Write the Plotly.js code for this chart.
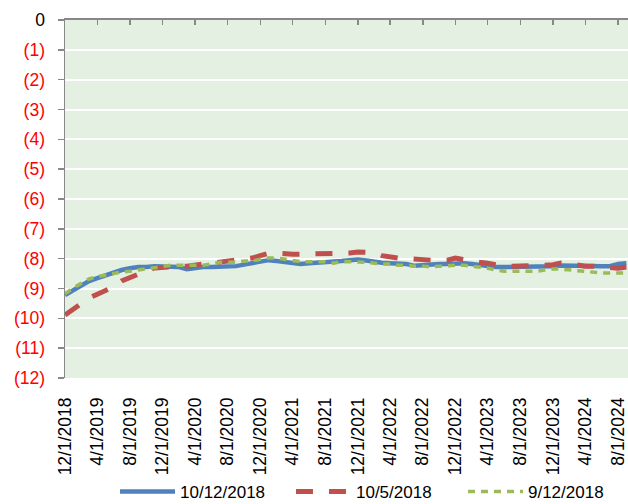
<!DOCTYPE html>
<html>
<head>
<meta charset="utf-8">
<script src="https://cdn.plot.ly/plotly-3.0.1.min.js"></script>
<style>html,body{margin:0;padding:0;background:#fff;}#chart{width:628px;height:504px;}</style>
</head>
<body>
<div id="chart"></div>
<script>
const months = [
 '2018-12-01',
 '2019-01-01','2019-02-01','2019-03-01','2019-04-01','2019-05-01','2019-06-01','2019-07-01','2019-08-01','2019-09-01','2019-10-01','2019-11-01','2019-12-01',
 '2020-01-01','2020-02-01','2020-03-01','2020-04-01','2020-05-01','2020-06-01','2020-07-01','2020-08-01','2020-09-01','2020-10-01','2020-11-01','2020-12-01',
 '2021-01-01','2021-02-01','2021-03-01','2021-04-01','2021-05-01','2021-06-01','2021-07-01','2021-08-01','2021-09-01','2021-10-01','2021-11-01','2021-12-01',
 '2022-01-01','2022-02-01','2022-03-01','2022-04-01','2022-05-01','2022-06-01','2022-07-01','2022-08-01','2022-09-01','2022-10-01','2022-11-01','2022-12-01',
 '2023-01-01','2023-02-01','2023-03-01','2023-04-01','2023-05-01','2023-06-01','2023-07-01','2023-08-01','2023-09-01','2023-10-01','2023-11-01','2023-12-01',
 '2024-01-01','2024-02-01','2024-03-01','2024-04-01','2024-05-01','2024-06-01','2024-07-01','2024-08-01','2024-09-01'
];

const series_10_12_2018 = [
 -9.22,-9.05,-8.88,-8.75,-8.65,-8.55,-8.45,-8.38,-8.32,-8.28,-8.28,-8.25,-8.26,
 -8.28,-8.28,-8.35,-8.30,-8.28,-8.28,-8.28,-8.28,-8.25,-8.20,-8.15,-8.08,
 -8.05,-8.08,-8.12,-8.13,-8.18,-8.15,-8.14,-8.12,-8.10,-8.08,-8.05,-8.03,
 -8.06,-8.12,-8.14,-8.15,-8.15,-8.18,-8.24,-8.21,-8.20,-8.18,-8.18,-8.15,
 -8.15,-8.18,-8.22,-8.25,-8.28,-8.28,-8.28,-8.28,-8.27,-8.27,-8.26,-8.25,
 -8.23,-8.24,-8.25,-8.25,-8.25,-8.25,-8.25,-8.18,-8.15
];

const series_10_5_2018 = [
 -9.89,-9.69,-9.49,-9.32,-9.19,-9.05,-8.95,-8.75,-8.62,-8.52,-8.41,-8.31,-8.28,
 -8.25,-8.25,-8.25,-8.22,-8.18,-8.15,-8.12,-8.10,-8.08,-8.03,-7.98,-7.90,
 -7.82,-7.82,-7.85,-7.85,-7.85,-7.85,-7.85,-7.84,-7.82,-7.81,-7.81,-7.78,
 -7.78,-7.80,-7.90,-7.95,-7.98,-8.00,-8.03,-8.05,-8.05,-8.05,-8.05,-7.98,
 -8.04,-8.10,-8.12,-8.15,-8.20,-8.25,-8.25,-8.25,-8.25,-8.25,-8.22,-8.20,
 -8.15,-8.18,-8.22,-8.25,-8.25,-8.28,-8.30,-8.32,-8.28
];

const series_9_12_2018 = [
 -9.18,-8.98,-8.82,-8.68,-8.60,-8.55,-8.48,-8.45,-8.42,-8.38,-8.32,-8.28,-8.25,
 -8.22,-8.22,-8.22,-8.22,-8.22,-8.18,-8.12,-8.12,-8.12,-8.08,-8.08,-8.02,
 -7.98,-7.98,-8.02,-8.08,-8.10,-8.10,-8.10,-8.10,-8.15,-8.10,-8.10,-8.10,
 -8.12,-8.15,-8.18,-8.18,-8.22,-8.22,-8.25,-8.25,-8.28,-8.25,-8.22,-8.22,
 -8.22,-8.25,-8.28,-8.32,-8.38,-8.42,-8.42,-8.42,-8.42,-8.42,-8.38,-8.35,
 -8.35,-8.38,-8.42,-8.45,-8.45,-8.48,-8.48,-8.48,-8.48
];

const seriesNames = ['10/12/2018','10/5/2018','9/12/2018'];

const xTickVals = ['2018-12-01','2019-04-01','2019-08-01','2019-12-01','2020-04-01','2020-08-01','2020-12-01','2021-04-01','2021-08-01','2021-12-01','2022-04-01','2022-08-01','2022-12-01','2023-04-01','2023-08-01','2023-12-01','2024-04-01','2024-08-01'];
const xTickText = ['12/1/2018','4/1/2019','8/1/2019','12/1/2019','4/1/2020','8/1/2020','12/1/2020','4/1/2021','8/1/2021','12/1/2021','4/1/2022','8/1/2022','12/1/2022','4/1/2023','8/1/2023','12/1/2023','4/1/2024','8/1/2024'];

const yTickVals = [0,-1,-2,-3,-4,-5,-6,-7,-8,-9,-10,-11,-12];
const yTickText = ['0','(1)','(2)','(3)','(4)','(5)','(6)','(7)','(8)','(9)','(10)','(11)','(12)'];

const xRange = ['2018-12-01','2024-09-07'];
const fontFam = 'Liberation Sans, Arial, sans-serif';

const traces = [
  {x: months, y: series_10_12_2018, name: seriesNames[0], type: 'scatter', mode: 'lines',
   legend: 'legend', line: {color: '#4F81BD', width: 4.5}},
  {x: months, y: series_10_5_2018, name: seriesNames[1], type: 'scatter', mode: 'lines',
   legend: 'legend2', line: {color: '#C0504D', width: 5, dash: '17px,16px'}},
  {x: months, y: series_9_12_2018, name: seriesNames[2], type: 'scatter', mode: 'lines',
   legend: 'legend3', line: {color: '#9BBB59', width: 3.5, dash: '7px,6px'}},
  {x: [months[0]], y: [null], xaxis: 'x2', type: 'scatter', mode: 'lines', showlegend: false, hoverinfo: 'skip'}
];

function legendAt(xp) {
  return {
    orientation: 'h', x: xp, xanchor: 'left', yref: 'container', y: 0.024, yanchor: 'middle',
    font: {family: fontFam, size: 17, color: '#000'}, itemwidth: 55,
    bgcolor: 'rgba(0,0,0,0)'
  };
}

const layout = {
  width: 628, height: 504,
  margin: {l: 65, r: 0, t: 20, b: 126, autoexpand: false},
  paper_bgcolor: '#ffffff',
  plot_bgcolor: '#E3F0E2',
  showlegend: true,
  font: {family: fontFam, size: 17, color: '#000000'},
  xaxis: {
    type: 'date', range: xRange,
    tickvals: xTickVals, ticktext: xTickText, tickangle: -90,
    tickfont: {family: fontFam, size: 17.5, color: '#000'},
    showgrid: false, zeroline: false, showline: false, ticks: '',
    ticklabelstandoff: 15
  },
  xaxis2: {
    type: 'date', range: xRange, overlaying: 'x', side: 'top', anchor: 'y',
    tickvals: xTickVals, showticklabels: false, showgrid: false, zeroline: false,
    showline: true, linecolor: '#888888', linewidth: 2,
    ticks: 'inside', ticklen: 5, tickcolor: '#888888', tickwidth: 1.5
  },
  yaxis: {
    range: [-12, 0], tickvals: yTickVals,
    ticktext: yTickText.map((t, i) => i === 0 ? t : '<span style="color:#FF0000">' + t + '</span>'),
    tickfont: {family: fontFam, size: 17.5, color: '#000'},
    showgrid: true, gridcolor: '#FFFFFF', gridwidth: 2, zeroline: false,
    showline: true, linecolor: '#888888', linewidth: 1.5,
    ticks: 'outside', ticklen: 6, tickcolor: '#888888', tickwidth: 1.5,
    ticklabelstandoff: 9
  },
  legend: legendAt(0.0888),
  legend2: legendAt(0.4014),
  legend3: legendAt(0.7069)
};

Plotly.newPlot('chart', traces, layout, {displayModeBar: false, staticPlot: true});
</script>
</body>
</html>
